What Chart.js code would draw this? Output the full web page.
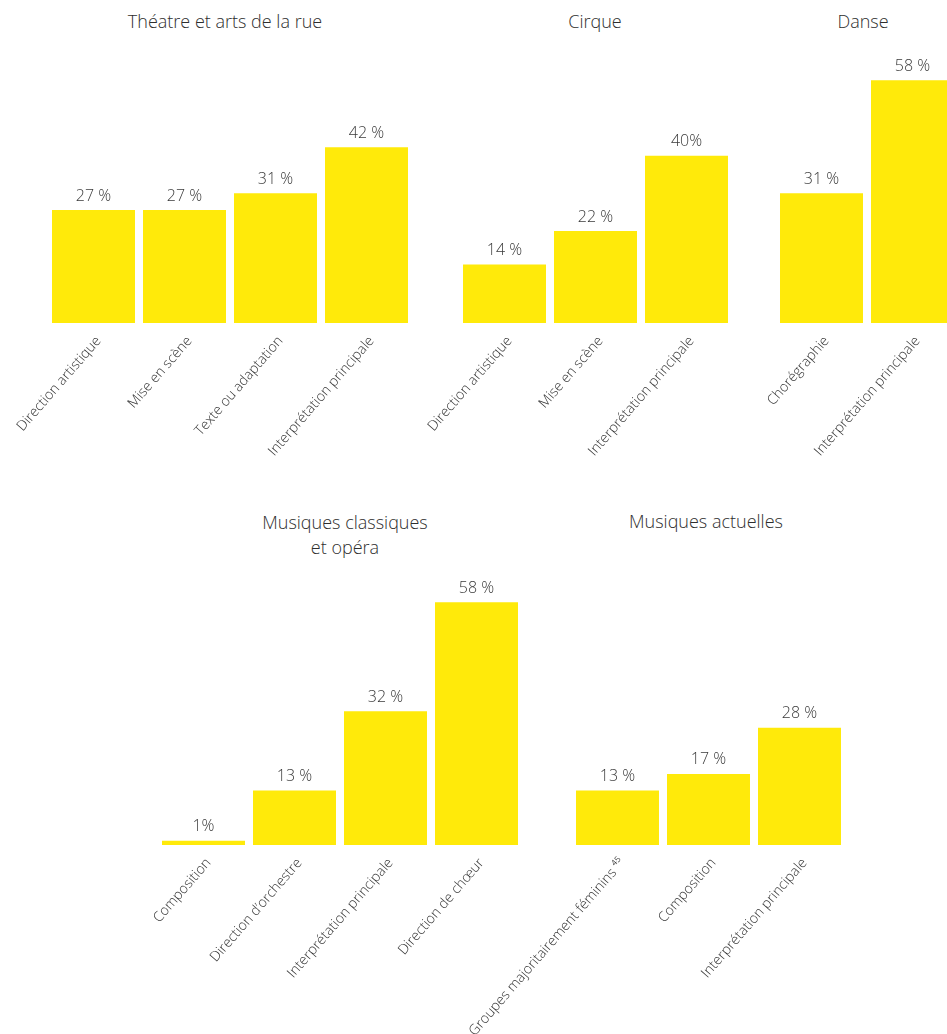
<!DOCTYPE html>
<html>
<head>
<meta charset="utf-8">
<script src="https://cdn.jsdelivr.net/npm/chart.js@4/dist/chart.umd.min.js"></script>
<style>
  html, body { margin: 0; padding: 0; background: #fff; overflow: hidden; }
  body { width: 947px; height: 1034px; position: relative; font-family: "Open Sans", "Noto Sans", sans-serif; }
  canvas { position: absolute; }
  .title { position: absolute; text-align: center; color: #2e2e2e; font-size: 18px; font-weight: 300; line-height: 25px; }
</style>
</head>
<body>

<div class="title" style="left:75px; top:9px; width:300px;">Théatre et arts de la rue</div>
<div class="title" style="left:495px; top:9px; width:200px;">Cirque</div>
<div class="title" style="left:783px; top:9px; width:160px;">Danse</div>
<div class="title" style="left:195px; top:510px; width:300px;">Musiques classiques<br>et opéra</div>
<div class="title" style="left:556px; top:509px; width:300px;">Musiques actuelles</div>

<canvas id="theatre" width="440" height="473" style="left:0; top:0;"></canvas>
<canvas id="cirque" width="360" height="473" style="left:400px; top:0;"></canvas>
<canvas id="danse" width="200" height="473" style="left:760px; top:0;"></canvas>
<canvas id="classique" width="545" height="554" style="left:0; top:480px;"></canvas>
<canvas id="actuelles" width="507" height="554" style="left:440px; top:480px;"></canvas>

<script>
// DATA
const theatreLabels = ['Direction artistique', 'Mise en scène', 'Texte ou adaptation', 'Interprétation principale'];
const theatreValues = [27, 27, 31, 42];
const theatreText = ['27 %', '27 %', '31 %', '42 %'];

const cirqueLabels = ['Direction artistique', 'Mise en scène', 'Interprétation principale'];
const cirqueValues = [14, 22, 40];
const cirqueText = ['14 %', '22 %', '40%'];

const danseLabels = ['Chorégraphie', 'Interprétation principale'];
const danseValues = [31, 58];
const danseText = ['31 %', '58 %'];

const classiqueLabels = ['Composition', 'Direction d\u2019orchestre', 'Interprétation principale', 'Direction de chœur'];
const classiqueValues = [1, 13, 32, 58];
const classiqueText = ['1%', '13 %', '32 %', '58 %'];

const actuellesLabels = ['Groupes majoritairement féminins \u2074\u2075', 'Composition', 'Interprétation principale'];
const actuellesValues = [13, 17, 28];
const actuellesText = ['13 %', '17 %', '28 %'];

const YELLOW = '#FFEA0A';
const FONT = '"Open Sans", "Noto Sans", sans-serif';

// value labels above bars
const valueLabels = {
    id: 'valueLabels',
    afterDatasetsDraw(chart, args, opts) {
        const ctx = chart.ctx;
        const meta = chart.getDatasetMeta(0);
        ctx.save();
        ctx.font = '300 16px ' + FONT;
        ctx.fillStyle = '#3a3a3a';
        ctx.textAlign = 'center';
        ctx.textBaseline = 'bottom';
        meta.data.forEach((bar, i) => {
            ctx.fillText(opts.texts[i], bar.x, bar.y - 6);
        });
        ctx.restore();
    }
};

function makeChart(id, labels, values, texts, pad, labelH){

    new Chart(document.getElementById(id), {
        type: 'bar',
        data: {
            labels: labels,
            datasets: [{
                data: values,
                backgroundColor: YELLOW,
                borderWidth: 0,
                categoryPercentage: 1,
                barPercentage: 0.912
            }]
        },
        plugins: [valueLabels],
        options: {
            responsive: false,
            animation: false,
            devicePixelRatio: 1,
            layout: {
                padding: { left: pad.left, right: pad.right, top: pad.top, bottom: 0 }
            },
            plugins: {
                legend: { display: false },
                tooltip: { enabled: false },
                valueLabels: { texts: texts }
            },
            scales: {
                y: {
                    display: false,
                    min: 0,
                    max: 60
                },
                x: {
                    grid: { display: false, drawTicks: false },
                    border: { display: false },
                    ticks: {
                        autoSkip: false,
                        minRotation: 49,
                        maxRotation: 49,
                        padding: 10,
                        labelOffset: 5,
                        color: '#333',
                        font: { family: FONT, size: 14, weight: '300' }
                    },
                    afterFit: function(scale){
                        scale.height = labelH;
                        scale.paddingLeft = 0;
                        scale.paddingRight = 0;
                    }
                }
            }
        }
    });

}

makeChart('theatre', theatreLabels, theatreValues, theatreText, { left: 48, right: 28, top: 72 }, 150);
makeChart('cirque', cirqueLabels, cirqueValues, cirqueText, { left: 59, right: 28, top: 72 }, 150);
makeChart('danse', danseLabels, danseValues, danseText, { left: 16, right: 2, top: 72 }, 150);
makeChart('classique', classiqueLabels, classiqueValues, classiqueText, { left: 158, right: 23, top: 114 }, 189);
makeChart('actuelles', actuellesLabels, actuellesValues, actuellesText, { left: 132, right: 102, top: 114 }, 189);
</script>
</body>
</html>
